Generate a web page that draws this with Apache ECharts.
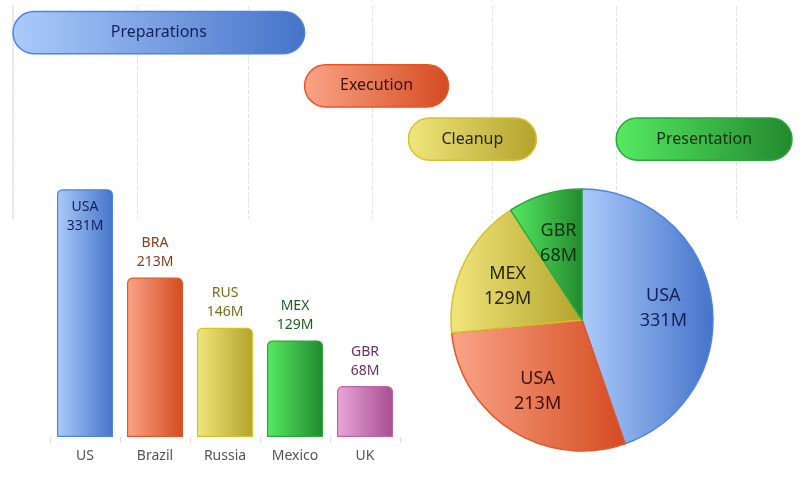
<!DOCTYPE html>
<html>
<head>
<meta charset="utf-8">
<script src="https://cdn.jsdelivr.net/npm/echarts@6/dist/echarts.min.js"></script>
<style>
  html, body { margin: 0; padding: 0; background: #fff; }
  #main { width: 800px; height: 494px; }
</style>
</head>
<body>
<div id="main"></div>
<script>
// ---------- data
var taskNames = ["Preparations", "Execution", "Cleanup", "Presentation"];
var taskLane = [0, 1, 2, 2];
var taskStart = ["2023-01-01", "2023-03-15", "2023-04-10", "2023-06-01"];
var taskEnd = ["2023-03-15", "2023-04-20", "2023-05-12", "2023-07-15"];
var lanes = ["lane1", "lane2", "lane3", "lane4"];

var countries = ["US", "Brazil", "Russia", "Mexico", "UK"];
var codes = ["USA", "BRA", "RUS", "MEX", "GBR"];
var population = [331, 213, 146, 129, 68];

var pieNames = ["USA", "USA", "MEX", "GBR"];
var pieValues = [331, 213, 129, 68];

// ---------- colors
var palette = {
  blue: { light: "#abcbfa", dark: "#4573c9", border: "#4a84e6", text: "#15205a" },
  orange: { light: "#faa487", dark: "#d44b20", border: "#e85424", text: "#8a3a1e" },
  yellow: { light: "#f1e67c", dark: "#b2a32b", border: "#d6c22b", text: "#776c1e" },
  green: { light: "#56ea62", dark: "#22892e", border: "#2aa83a", text: "#1d5e22" },
  pink: { light: "#eaa6da", dark: "#a64d8e", border: "#c262aa", text: "#6e2e62" }
};
var taskColors = [palette.blue, palette.orange, palette.yellow, palette.green];
var taskTextColors = ["#15205a", "#3a1208", "#2a2408", "#0e2e10"];
var barColors = [palette.blue, palette.orange, palette.yellow, palette.green, palette.pink];
var pieColors = [palette.blue, palette.orange, palette.yellow, palette.green];
var pieTextColors = ["#15205a", "#3a1208", "#2a2408", "#0e2e10"];

var FONT = "Noto Sans";

function grad(c) {
  return new echarts.graphic.LinearGradient(0, 0, 1, 0, [
    { offset: 0, color: c.light },
    { offset: 1, color: c.dark }
  ]);
}
function toTime(s) {
  return new Date(s + "T00:00:00Z").getTime();
}

var taskData = taskNames.map(function (n, i) {
  return [taskLane[i], toTime(taskStart[i]), toTime(taskEnd[i])];
});

// rounded task bars on the time axis
function renderTask(params, api) {
  var i = params.dataIndex;
  var lane = api.value(0);
  var p0 = api.coord([api.value(1), lane]);
  var p1 = api.coord([api.value(2), lane]);
  var h = api.size([0, 1])[1] * 0.79;
  return {
    type: "rect",
    shape: { x: p0[0], y: p0[1] - h / 2, width: p1[0] - p0[0], height: h, r: h / 2 },
    style: { fill: grad(taskColors[i]), stroke: taskColors[i].border, lineWidth: 1.5 },
    textContent: {
      style: { text: taskNames[i], fill: taskTextColors[i], fontSize: 16, fontFamily: FONT }
    },
    textConfig: { position: "inside" }
  };
}

var barData = population.map(function (v, i) {
  var c = barColors[i];
  return {
    value: v,
    itemStyle: { color: grad(c), borderColor: c.border, borderWidth: 1.2, borderRadius: [5, 5, 0, 0] },
    label: {
      position: i === 0 ? "insideTop" : "top",
      color: i === 0 ? "#15205a" : c.text,
      distance: i === 0 ? 8 : 6
    }
  };
});

var pieData = pieValues.map(function (v, i) {
  var c = pieColors[i];
  return {
    name: pieNames[i],
    value: v,
    itemStyle: { color: grad(c), borderColor: c.border, borderWidth: 1.5 }
  };
});
// transparent copy of the pie, only for placing labels a bit further out
var pieLabelData = pieValues.map(function (v, i) {
  return {
    name: pieNames[i],
    value: v,
    label: { color: pieTextColors[i] }
  };
});

var myChart = echarts.init(document.getElementById("main"));

var option = {
  useUTC: true,
  animation: false,
  textStyle: { fontFamily: FONT },
  grid: [
    { left: 13, right: 0, top: 6, height: 213 },
    { left: 50, width: 350, top: 175, height: 262 }
  ],
  xAxis: [
    {
      gridIndex: 0,
      type: "time",
      min: toTime("2023-01-01"),
      max: toTime("2023-07-17"),
      splitNumber: 6,
      axisLine: { show: false },
      axisTick: { show: false },
      axisLabel: { show: false },
      splitLine: {
        show: true,
        showMinLine: false,
        showMaxLine: false,
        lineStyle: { color: "#e3e3e3", type: "dashed", width: 1 }
      }
    },
    {
      gridIndex: 1,
      type: "category",
      data: countries,
      axisLine: { show: false },
      axisTick: { show: true, length: 6, lineStyle: { color: "#dddddd" } },
      axisLabel: { color: "#555", fontSize: 14, margin: 12, fontFamily: FONT },
      splitLine: { show: false }
    }
  ],
  yAxis: [
    {
      gridIndex: 0,
      type: "category",
      inverse: true,
      data: lanes,
      axisLine: { show: true, lineStyle: { color: "#e6e6e6", width: 1.5 } },
      axisTick: { show: false },
      axisLabel: { show: false },
      splitLine: { show: false }
    },
    {
      gridIndex: 1,
      type: "value",
      min: 0,
      max: 350,
      show: false,
      splitLine: { show: false }
    }
  ],
  series: [
    {
      type: "custom",
      xAxisIndex: 0,
      yAxisIndex: 0,
      renderItem: renderTask,
      encode: { x: [1, 2], y: 0 },
      data: taskData
    },
    {
      type: "bar",
      xAxisIndex: 1,
      yAxisIndex: 1,
      barWidth: "80%",
      data: barData,
      label: {
        show: true,
        fontSize: 14,
        lineHeight: 19,
        fontFamily: FONT,
        formatter: function (p) {
          return codes[p.dataIndex] + "\n" + p.value + "M";
        }
      }
    },
    {
      type: "pie",
      center: [582, 320],
      radius: [0, 131],
      startAngle: 90,
      clockwise: true,
      label: { show: false },
      labelLine: { show: false },
      data: pieData
    },
    {
      type: "pie",
      silent: true,
      center: [582, 322],
      radius: [28, 131],
      startAngle: 90,
      clockwise: true,
      itemStyle: { color: "rgba(0,0,0,0)", borderWidth: 0 },
      labelLine: { show: false },
      label: {
        show: true,
        position: "inside",
        fontSize: 18,
        lineHeight: 25,
        fontFamily: FONT,
        formatter: function (p) {
          return p.name + "\n" + p.value + "M";
        }
      },
      data: pieLabelData
    }
  ]
};

myChart.setOption(option);
</script>
</body>
</html>
